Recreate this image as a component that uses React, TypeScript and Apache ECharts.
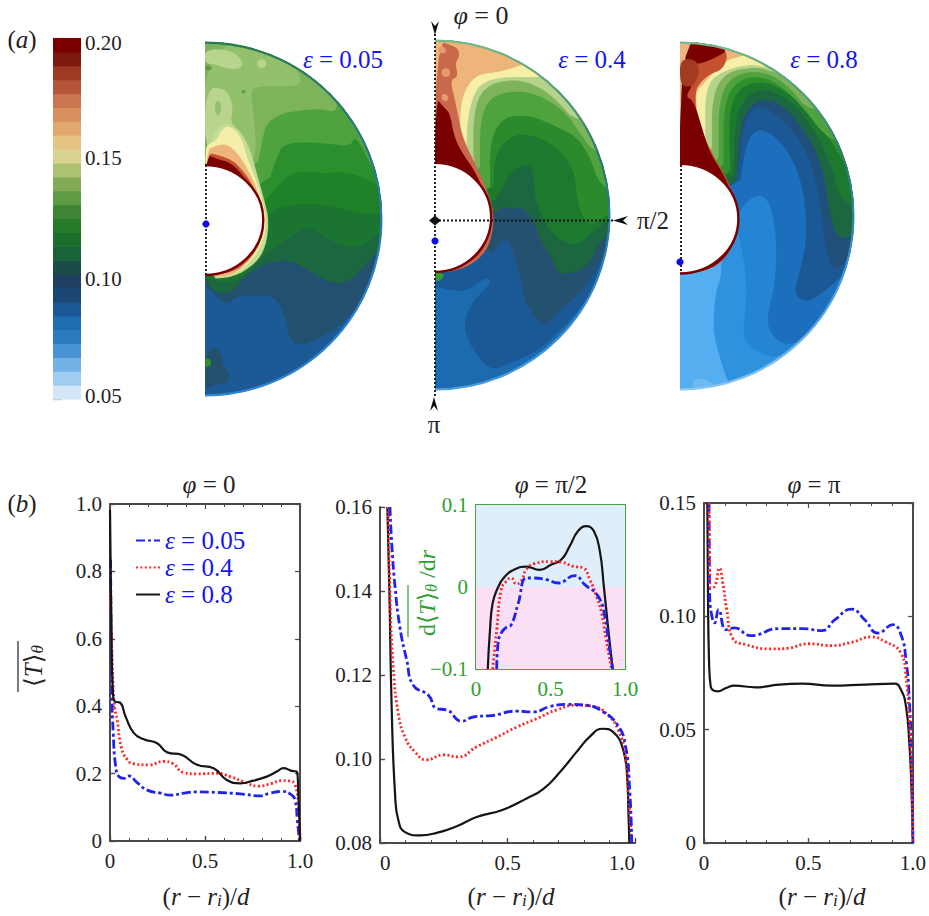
import React, { useEffect, useRef } from "react";
import * as echarts from "echarts";

const SERIF = '"Liberation Serif","DejaVu Serif",serif';
const BLUE_TEXT = "#1414f0";
const GREEN_TEXT = "#2ea12e";

// ---------- colour bar ----------
const colorbarColors = [
  "#d3e7f8","#a0cdef","#72b2e6","#4a94d3","#2a7bc0","#1d6db0","#1b5896","#1c4673","#1f3f60",
  "#1c4c47","#1a6238","#1a6f2c","#257b27","#3f8334","#5f9a44","#83ab57","#adc371","#d9d391",
  "#e6c584","#e1a86e","#d88f5e","#c9754f","#b4553a","#9e3a22","#7d1a10","#7a0000",
];

// ---------- profiles, panel phi = 0 ----------
const p1X8 = [0,.007,.014,.024,.052,.082,.126,.178,.248,.301,.379,.458,.545,.615,.685,.755,.825,.878,.913,.956,.983,.991,1];
const p1Y8 = [.983,.637,.458,.414,.411,.369,.320,.302,.290,.263,.255,.226,.216,.181,.171,.179,.191,.206,.216,.208,.206,.142,0];
const p1X4 = [.003,.014,.024,.038,.059,.091,.126,.205,.283,.327,.388,.458,.563,.633,.703,.782,.851,.904,.948,.974,.991,1];
const p1Y4 = [.736,.498,.399,.359,.280,.241,.229,.226,.236,.231,.203,.199,.201,.191,.176,.163,.171,.179,.178,.166,.112,0];
const p1X05 = [.003,.010,.017,.030,.047,.073,.100,.143,.196,.266,.318,.388,.458,.563,.685,.790,.843,.904,.948,.974,.986,.997];
const p1Y05 = [.835,.439,.320,.221,.191,.186,.193,.173,.151,.142,.136,.142,.146,.144,.140,.134,.142,.147,.140,.122,.062,0];

// ---------- profiles, panel phi = pi/2 ----------
const p2X8 = [.029,.037,.046,.059,.072,.098,.157,.222,.301,.379,.477,.575,.641,.706,.771,.824,.873,.915,.954,.970,.974,.978];
const p2Y8 = [.16,.1394,.1116,.0917,.0854,.0826,.0818,.0824,.0840,.0862,.0878,.0906,.0929,.0969,.1017,.1054,.1072,.1064,.1021,.0949,.0878,.08];
const p2X4 = [.033,.039,.052,.072,.098,.137,.183,.248,.307,.379,.458,.536,.614,.693,.771,.837,.895,.935,.961,.974,.987];
const p2Y4 = [.16,.1394,.1219,.1108,.1052,.1017,.0998,.1010,.1005,.1029,.1052,.1076,.1096,.1117,.1128,.1125,.1104,.1068,.1013,.0917,.08];
const p2X05 = [.039,.046,.059,.078,.105,.131,.190,.222,.261,.320,.366,.444,.536,.601,.667,.732,.810,.876,.928,.961,.980,.987];
const p2Y05 = [.16,.1513,.1410,.1314,.1235,.1175,.1152,.1120,.1117,.1090,.1100,.1104,.1114,.1112,.1125,.1130,.1128,.1112,.1084,.1037,.0917,.08];

// ---------- profiles, panel phi = pi ----------
const p3X8 = [.016,.019,.024,.032,.066,.106,.145,.248,.359,.470,.611,.770,.912,.943,.967,.983,.994,1];
const p3Y8 = [.15,.1103,.0809,.0691,.0669,.0684,.0694,.0687,.0699,.0703,.0694,.0699,.0703,.0676,.0603,.0441,.0221,0];
const p3X4 = [.024,.027,.030,.051,.074,.090,.109,.137,.201,.327,.406,.501,.611,.706,.801,.864,.943,.967,.983,.994,1];
const p3Y4 = [.15,.125,.1125,.1132,.1213,.1147,.1029,.0904,.0875,.0856,.0860,.0879,.0871,.0885,.0909,.0890,.0838,.0735,.0544,.0294,0];
const p3X05 = [.024,.027,.035,.051,.070,.106,.145,.224,.359,.469,.564,.627,.706,.769,.833,.904,.943,.967,.983,.994,1];
const p3Y05 = [.15,.1103,.1015,.0971,.1029,.0941,.0949,.0915,.0946,.0946,.0937,.0985,.1032,.0985,.0926,.0963,.0919,.0809,.0632,.0368,0];

// ---------- profiles, inset ----------
const inX8 = [.079,.094,.112,.146,.191,.258,.337,.427,.506,.573,.629,.685,.742,.791,.831,.858,.888,.917];
const inY8 = [-.1,-.0522,-.0196,-.0012,.0122,.0212,.0249,.0208,.0273,.0335,.0498,.0682,.0743,.0682,.0437,.0008,-.0522,-.1];
const inX4 = [.112,.139,.169,.202,.236,.270,.303,.337,.393,.494,.573,.652,.719,.764,.809,.843,.870,.910];
const inY4 = [-.1,-.0522,-.0033,.0069,.0110,.0037,.0069,.0212,.0286,.0310,.0302,.0253,.0233,.0090,-.0114,-.0318,-.0604,-.1];
const inX05 = [.139,.148,.169,.202,.236,.281,.337,.371,.472,.551,.663,.730,.820,.865,.888,.917];
const inY05 = [-.1,-.0686,-.0563,-.0494,-.0461,-.0216,.0110,.0110,.0090,.0049,.0139,.0029,-.0114,-.0359,-.0645,-.1];

// ---------- temperature maps: isotherm lines and patches, in map units, origin at the centre ----------
const d1Base = "#1c5a96";
const d1LevelColors = ["#24506f","#1c6640","#1b7530","#1f8228","#2c8f2d","#4ea33f","#7db45b"];
const d1Levels = [
  [[0,-195],[25,-225],[65,-260],[95,-230],[145,-230],[205,-230],[235,-275],[260,-385],[345,-360],[415,-310],[475,-245],[515,-185],[585,-145]],
  [[0,-175],[25,-220],[65,-225],[95,-205],[120,-170],[175,-135],[225,-125],[255,-125],[305,-150],[345,-175],[395,-195],[435,-185],[475,-145],[525,-90],[585,-45]],
  [[0,-175],[75,-195],[115,-170],[180,-105],[255,-55],[295,-25],[335,-35],[385,-70],[445,-90],[495,-65],[530,-35],[585,-15]],
  [[175,-45],[185,5],[215,35],[285,45],[345,45],[415,30],[475,15],[530,15],[585,15]],
  [[180,55],[215,95],[245,130],[305,145],[355,135],[415,143],[475,125],[525,95],[585,65]],
  [[195,125],[215,185],[235,225],[305,230],[375,225],[435,217],[450,250],[485,185],[520,115],[585,55]],
  [[160,175],[175,255],[185,285],[225,315],[285,325],[345,330],[390,320],[397,345],[370,375],[425,405]],
];
const d1PatchColors = ["#24506f","#2c8f2d","#93c06c","#b9d48c","#b9d48c","#b9d48c","#93c06c","#5f9a44","#5f9a44","#c5dc96","#f4eeaa","#eeb57a","#c4502e","#7a0000"];
const d1Patches = [
  [[0,-410],[25,-380],[50,-405],[55,-445],[75,-455],[65,-495],[25,-495],[0,-515]],
  [[0,-415],[18,-420],[18,-440],[0,-445]],
  [[0,520],[185,520],[265,465],[295,405],[245,395],[185,400],[135,390],[145,325],[155,195],[130,165],[0,175]],
  [[0,510],[85,505],[120,460],[85,445],[25,465],[0,465]],
  [[155,475],[180,480],[185,455],[160,450]],
  [[0,395],[65,390],[85,335],[75,285],[115,255],[130,205],[125,165],[0,175]],
  [[30,355],[50,350],[45,310],[30,315]],
  [[0,460],[20,458],[20,445],[0,445]],
  [[110,387],[122,385],[120,375],[110,378]],
  [[0,185],[25,255],[50,285],[85,285],[130,225],[150,155],[178,55],[192,-5],[182,-85],[150,-135],[85,-175],[0,-180]],
  [[0,205],[10,225],[35,235],[50,270],[75,280],[110,245],[125,185],[150,125],[175,45],[183,-5],[176,-65],[142,-125],[85,-170],[0,-175]],
  [[0,205],[35,220],[65,225],[100,195],[130,145],[158,85],[177,15],[177,-45],[143,-115],[85,-170],[0,-175]],
  [[0,200],[45,190],[85,175],[130,125],[165,55],[176,0],[170,-65],[135,-120],[85,-160],[0,-170]],
  [[0,195],[35,180],[75,170],[115,130],[155,65],[175,5],[165,-65],[130,-120],[75,-155],[0,-170]],
];

const d2Base = "#1c6bb0";
const d2LevelColors = ["#1b5896","#24516f","#1c6640","#1c7a2e","#2a8a2c","#4ea33f","#7db45b","#b5d38a","#f7eea8","#eeb57a"];
const d2Levels = [
  [[0,-215],[75,-230],[110,-220],[155,-185],[170,-205],[120,-250],[85,-315],[100,-385],[165,-470],[225,-445],[315,-405],[375,-345],[445,-275],[505,-155],[575,-55]],
  [[170,-115],[215,-60],[240,-125],[260,-205],[270,-265],[325,-340],[375,-285],[435,-235],[485,-165],[515,-95],[575,-45]],
  [[175,5],[205,25],[230,20],[270,20],[295,-15],[315,-75],[355,-135],[365,-175],[415,-175],[465,-145],[495,-75],[575,-15]],
  [[180,45],[205,85],[225,125],[275,155],[295,135],[300,45],[335,-35],[375,-75],[425,-95],[480,-45],[575,25]],
  [[175,85],[180,185],[235,245],[315,235],[385,185],[420,125],[425,45],[455,-35],[515,-5],[575,45]],
  [[165,85],[165,225],[205,295],[285,300],[365,265],[425,235],[465,175],[495,85],[575,60]],
  [[135,145],[135,285],[165,355],[245,375],[325,355],[395,305],[435,245],[470,195],[575,145]],
  [[115,165],[115,305],[145,385],[235,410],[315,385],[375,335],[415,285],[575,265]],
  [[135,115],[95,185],[95,265],[110,345],[135,395],[205,415],[290,413],[315,415],[330,430],[400,500]],
  [[120,165],[75,225],[75,305],[85,365],[120,420],[195,430],[245,445],[275,455],[325,475]],
];
const d2PatchColors = ["#3a9a30","#c9684a","#e79a6b","#e79a6b","#e79a6b","#7a0000"];
const d2Patches = [
  [[0,-170],[28,-176],[20,-195],[0,-200]],
  [[0,525],[65,505],[75,480],[60,455],[70,415],[45,405],[60,345],[70,295],[85,225],[135,125],[175,25],[175,-45],[155,-110],[95,-160],[0,-178]],
  [[20,440],[45,440],[45,415],[20,415]],
  [[10,505],[30,505],[35,485],[10,485]],
  [[20,365],[40,360],[38,340],[20,345]],
  [[0,355],[25,325],[45,305],[55,245],[75,195],[125,125],[165,25],[167,-45],[145,-105],[95,-150],[0,-170]],
];

const d3Base = "#55aef0";
const d3LevelColors = ["#2f92de","#2385d3","#1c6fbd","#1b5896","#1f4f7a","#1c6640","#1b7a2e","#2f8f2c","#4fa33f","#7db45b","#b5d38a","#f7eea8","#eeb57a"];
const d3Levels = [
  [[166,-53],[121,-143],[126,-173],[106,-233],[99,-333],[111,-393],[136,-478],[161,-533]],
  [[176,-53],[196,-153],[201,-253],[186,-363],[221,-403],[291,-428],[371,-383],[441,-323],[521,-283]],
  [[176,7],[201,47],[246,67],[276,27],[291,-83],[286,-203],[261,-303],[271,-353],[321,-393],[401,-353],[461,-273],[541,-183]],
  [[181,107],[201,227],[241,267],[301,227],[351,147],[376,47],[381,-73],[361,-163],[341,-233],[381,-263],[451,-213],[541,-133]],
  [[176,147],[191,277],[221,327],[271,322],[351,247],[401,147],[426,7],[446,-143],[471,-163],[541,-93]],
  [[171,107],[181,277],[221,347],[291,347],[371,267],[431,147],[451,-13],[481,-73],[541,-53]],
  [[161,127],[166,297],[211,377],[291,377],[381,297],[451,167],[481,47],[541,27]],
  [[151,137],[146,327],[191,397],[281,402],[401,307],[471,197],[511,127],[561,147]],
  [[131,157],[131,337],[171,407],[251,422],[341,362],[461,207],[541,247]],
  [[116,177],[116,347],[156,422],[251,437],[331,387],[391,307],[561,347]],
  [[96,207],[96,357],[136,432],[231,447],[281,432],[361,407]],
  [[76,227],[76,387],[121,432],[211,457],[271,442],[341,447]],
  [[66,247],[41,367],[81,407],[121,457],[171,477],[221,487],[271,472]],
];
const d3PatchColors = ["#6cbaf3","#c4502e","#7a0000","#a33a22"];
const d3Patches = [
  [[31,-523],[46,-483],[91,-493],[111,-523]],
  [[0,522],[100,518],[146,490],[130,440],[90,425],[60,400],[45,370],[50,300],[72,240],[100,180],[140,115],[175,30],[178,-50],[130,-140],[60,-170],[0,-172]],
  [[0,522],[90,520],[146,497],[111,477],[66,457],[41,457],[21,447],[41,397],[16,357],[41,347],[71,247],[91,187],[136,117],[166,37],[176,-3],[171,-73],[121,-143],[61,-168],[0,-173]],
  [[0,470],[45,470],[60,440],[45,395],[20,385],[0,400]],
];

// ---------- helpers ----------
const zip = (a: number[], b: number[]) => a.map((x, i) => [x, b[i]]);

function chaikin(pts: number[][], closed: boolean, rounds = 2) {
  let cur = pts;
  for (let r = 0; r < rounds; r++) {
    const out: number[][] = [];
    const n = cur.length;
    if (!closed) out.push(cur[0]);
    const last = closed ? n : n - 1;
    for (let i = 0; i < last; i++) {
      const a = cur[i];
      const b = cur[(i + 1) % n];
      out.push([0.75 * a[0] + 0.25 * b[0], 0.75 * a[1] + 0.25 * b[1]]);
      out.push([0.25 * a[0] + 0.75 * b[0], 0.25 * a[1] + 0.75 * b[1]]);
    }
    if (!closed) out.push(cur[n - 1]);
    cur = out;
  }
  return cur;
}

function richFor(size: number, fill: string) {
  return {
    i: { fontStyle: "italic", fontFamily: SERIF, fontSize: size, fill, color: fill },
    n: { fontFamily: SERIF, fontSize: size, fill, color: fill },
    s: { fontStyle: "italic", fontFamily: SERIF, fontSize: size * 0.68, fill, color: fill, padding: [9, 0, 0, 0] },
  };
}

function label(x: number, y: number, text: string, size = 25, fill = "#222", rotation = 0) {
  return {
    type: "text",
    x,
    y,
    rotation,
    silent: true,
    style: {
      text,
      fontFamily: SERIF,
      fontSize: size,
      fill,
      align: "center",
      verticalAlign: "middle",
      rich: richFor(size, fill),
    },
  };
}

function dotted(x1: number, y1: number, x2: number, y2: number) {
  return {
    type: "line",
    silent: true,
    shape: { x1, y1, x2, y2 },
    style: { stroke: "#111", lineWidth: 1.8, lineDash: [2, 2] },
  };
}

function dot(x: number, y: number) {
  return { type: "circle", silent: true, shape: { cx: x, cy: y, r: 3.6 }, style: { fill: "#0c0ce8" } };
}

function arrow(points: number[][]) {
  return { type: "polygon", silent: true, shape: { points }, style: { fill: "#111" } };
}

function mapSeries(
  xAxisIndex: number,
  yAxisIndex: number,
  R: number,
  base: string,
  levels: number[][][],
  levelColors: string[],
  patches: number[][][],
  patchColors: string[],
  inner: number[],
  edgeStops: string[],
) {
  const items: any[] = [];
  items.push({ kind: "base", color: base });
  levels.forEach((pts, i) => items.push({ kind: "level", pts: chaikin(pts, false), color: levelColors[i] }));
  patches.forEach((pts, i) => items.push({ kind: "patch", pts: chaikin(pts, true), color: patchColors[i] }));
  items.push({ kind: "hole" });
  items.push({ kind: "edge" });
  return {
    type: "custom",
    xAxisIndex,
    yAxisIndex,
    silent: true,
    data: items.map((_, i) => [i, 0]),
    renderItem: (_p: any, api: any) => {
      const it = items[api.value(0)];
      const c = api.coord([0, 0]);
      const rx = api.coord([R, 0])[0] - c[0];
      const clipPath = {
        type: "sector",
        shape: { cx: c[0], cy: c[1], r: rx, r0: 0, startAngle: -Math.PI / 2, endAngle: Math.PI / 2 },
      };
      if (it.kind === "base") {
        return {
          type: "sector",
          shape: { cx: c[0], cy: c[1], r: rx, r0: 0, startAngle: -Math.PI / 2, endAngle: Math.PI / 2 },
          style: { fill: it.color },
        };
      }
      if (it.kind === "level") {
        const first = it.pts[0];
        const last = it.pts[it.pts.length - 1];
        const far = R * 1.3;
        const poly = [...it.pts, [far, last[1]], [far, far], [0, far], [0, 0], [first[0] * 0.5, first[1] * 0.5]];
        return {
          type: "polygon",
          clipPath,
          shape: { points: poly.map((p: number[]) => api.coord(p)) },
          style: { fill: it.color },
        };
      }
      if (it.kind === "patch") {
        return {
          type: "polygon",
          clipPath,
          shape: { points: it.pts.map((p: number[]) => api.coord(p)) },
          style: { fill: it.color },
        };
      }
      if (it.kind === "hole") {
        const ic = api.coord([0, inner[0]]);
        const hrx = api.coord([inner[1], 0])[0] - c[0];
        const hry = api.coord([0, inner[0] - inner[2]])[1] - ic[1];
        return {
          type: "ellipse",
          clipPath,
          shape: { cx: ic[0], cy: ic[1], rx: hrx + 0.5, ry: hry + 0.5 },
          style: { fill: "#fff", stroke: "#7a0000", lineWidth: 2.4 },
        };
      }
      return {
        type: "arc",
        shape: { cx: c[0], cy: c[1], r: rx - 0.6, startAngle: -Math.PI / 2, endAngle: Math.PI / 2 },
        style: {
          fill: null,
          lineWidth: 2.2,
          stroke: {
            type: "linear",
            x: 0,
            y: 0,
            x2: 0,
            y2: 1,
            colorStops: edgeStops.map((color, i) => ({ offset: i / (edgeStops.length - 1), color })),
          },
        },
      };
    },
  };
}

const SER_NAMES = ["ε = 0.05", "ε = 0.4", "ε = 0.8"];
const lineStyles = [
  { color: "#2222ee", width: 2.8, type: [9, 3, 3, 3] },
  { color: "#ff2525", width: 2.8, type: [2, 2.4] },
  { color: "#151515", width: 2.2, type: "solid" },
];

function line(idx: number, data: number[][], axis: number) {
  return {
    type: "line",
    name: SER_NAMES[idx],
    xAxisIndex: axis,
    yAxisIndex: axis,
    data,
    showSymbol: false,
    symbol: "none",
    smooth: 0.5,
    clip: true,
    lineStyle: lineStyles[idx],
    itemStyle: { color: lineStyles[idx].color },
    z: 4,
  };
}

export default function App() {
  const ref = useRef<HTMLDivElement>(null);
  useEffect(() => {
    const chart = echarts.init(ref.current!, undefined, { renderer: "svg" });

    const fmt1 = (v: number) => (v === 0 ? "0" : v.toFixed(1));
    const fmt2 = (v: number) => (v === 0 ? "0" : v.toFixed(2));
    const fmtInset = (v: number) => (v === 0 ? "0" : v < 0 ? "−" + Math.abs(v).toFixed(1) : v.toFixed(1));
    const TICK = 21;

    const spine = "#4a4a4a";
    const valueX = (gridIndex: number, color: string, fc: string, extra: any = {}) => ({
      type: "value",
      gridIndex,
      min: 0,
      max: 1,
      interval: 0.5,
      position: "bottom",
      axisLine: { show: true, onZero: false, lineStyle: { color, width: 2 } },
      axisTick: { show: true, inside: true, length: 5, lineStyle: { color, width: 1.4 } },
      minorTick: { show: true, splitNumber: 5, length: 3, lineStyle: { color, width: 1 } },
      splitLine: { show: false },
      axisLabel: { fontFamily: SERIF, fontSize: TICK, color: fc, margin: 9, formatter: fmt1, ...extra },
    });
    const valueY = (gridIndex: number, min: number, max: number, interval: number, color: string, fc: string, formatter: any) => ({
      type: "value",
      gridIndex,
      min,
      max,
      interval,
      position: "left",
      axisLine: { show: true, onZero: false, lineStyle: { color, width: 2 } },
      axisTick: { show: true, inside: true, length: 5, lineStyle: { color, width: 1.4 } },
      splitLine: { show: false },
      axisLabel: { fontFamily: SERIF, fontSize: TICK, color: fc, margin: 8, formatter },
    });
    const mirrorX = (gridIndex: number, color: string) => ({
      type: "value", gridIndex, min: 0, max: 1, interval: 0.5, position: "top",
      axisLine: { show: true, onZero: false, lineStyle: { color, width: 2 } },
      axisTick: { show: true, inside: true, length: 5, lineStyle: { color, width: 1.2 } },
      minorTick: { show: true, splitNumber: 5, length: 3, lineStyle: { color, width: 1 } },
      splitLine: { show: false }, axisLabel: { show: false },
    });
    const mirrorY = (gridIndex: number, min: number, max: number, interval: number, color: string) => ({
      type: "value", gridIndex, min, max, interval, position: "right",
      axisLine: { show: true, onZero: false, lineStyle: { color, width: 2 } },
      axisTick: { show: true, inside: true, length: 5, lineStyle: { color, width: 1.2 } },
      splitLine: { show: false }, axisLabel: { show: false },
    });
    const hiddenX = (gridIndex: number, max: number) => ({ type: "value", gridIndex, min: 0, max, show: false });
    const hiddenY = (gridIndex: number, R: number) => ({ type: "value", gridIndex, min: -R, max: R, show: false });

    const grids = [
      { left: 110, top: 504, width: 190, height: 337 }, // 0 phi=0
      { left: 380, top: 507, width: 255, height: 336 }, // 1 phi=pi/2
      { left: 704, top: 503, width: 211, height: 340 }, // 2 phi=pi
      { left: 476, top: 505, width: 149, height: 164 }, // 3 inset
      { left: 53, top: 38, width: 28, height: 361 }, // 4 colour bar
      { left: 205, top: 42, width: 177, height: 354 }, // 5 map 1
      { left: 435, top: 40, width: 175, height: 350 }, // 6 map 2
      { left: 680, top: 41.5, width: 174, height: 349 }, // 7 map 3
    ];

    const xAxis: any[] = [
      valueX(0, spine, "#222"),
      valueX(1, spine, "#222", { alignMinLabel: "left", alignMaxLabel: "right" }),
      valueX(2, spine, "#222"),
      valueX(3, "#4aa24a", GREEN_TEXT),
      { type: "value", gridIndex: 4, min: 0, max: 1, show: false },
      hiddenX(5, 530),
      hiddenX(6, 525),
      hiddenX(7, 523),
      mirrorX(0, spine),
      mirrorX(2, spine),
      mirrorX(3, "#4aa24a"),
    ];
    const yAxis: any[] = [
      valueY(0, 0, 1, 0.2, spine, "#222", fmt1),
      valueY(1, 0.08, 0.16, 0.02, spine, "#222", fmt2),
      valueY(2, 0, 0.15, 0.05, spine, "#222", fmt2),
      valueY(3, -0.1, 0.1, 0.1, "#4aa24a", GREEN_TEXT, fmtInset),
      {
        type: "value",
        gridIndex: 4,
        min: 0.05,
        max: 0.2,
        interval: 0.05,
        position: "right",
        axisLine: { show: false },
        axisTick: { show: true, length: 9, lineStyle: { color: "#b5b5b5", width: 1.4 } },
        splitLine: { show: false },
        axisLabel: {
          fontFamily: SERIF,
          fontSize: TICK,
          color: "#222",
          margin: 4,
          formatter: (v: number) => {
            const t = v.toFixed(2);
            if (t === "0.20") return "{hi|" + t + "}";
            if (t === "0.05") return "{lo|" + t + "}";
            return t;
          },
          rich: {
            hi: { fontFamily: SERIF, fontSize: TICK, color: "#222", padding: [10, 0, 0, 0] },
            lo: { fontFamily: SERIF, fontSize: TICK, color: "#222", padding: [0, 0, 6, 0] },
          },
        },
      },
      hiddenY(5, 530),
      hiddenY(6, 525),
      hiddenY(7, 523),
      mirrorY(0, 0, 1, 0.2, spine),
      mirrorY(2, 0, 0.15, 0.05, spine),
      mirrorY(3, -0.1, 0.1, 0.1, "#4aa24a"),
    ];

    const cbStep = 0.15 / colorbarColors.length;
    const insetBands = [
      { y0: 0, y1: 0.1, color: "#deeefb" },
      { y0: -0.1, y1: 0, color: "#fbdff5" },
    ];

    const series: any[] = [
      {
        type: "custom",
        xAxisIndex: 4,
        yAxisIndex: 4,
        silent: true,
        data: colorbarColors.map((_, i) => [i, 0]),
        renderItem: (_p: any, api: any) => {
          const i = api.value(0);
          const a = api.coord([0, 0.05 + i * cbStep]);
          const b = api.coord([1, 0.05 + (i + 1) * cbStep]);
          return {
            type: "rect",
            shape: { x: a[0], y: b[1], width: b[0] - a[0], height: a[1] - b[1] + 0.6 },
            style: { fill: colorbarColors[i] },
          };
        },
      },
      mapSeries(5, 5, 530, d1Base, d1Levels, d1LevelColors, d1Patches, d1PatchColors, [-3, 173, 163], ["#2a7a50", "#2a7a8a", "#2b80c8", "#2f86d0"]),
      mapSeries(6, 6, 525, d2Base, d2Levels, d2LevelColors, d2Patches, d2PatchColors, [-7, 167, 162], ["#7ab98a", "#2a7a6a", "#2b80c8", "#4f9fe0"]),
      mapSeries(7, 7, 523, d3Base, d3Levels, d3LevelColors, d3Patches, d3PatchColors, [-8, 174, 163], ["#7ab98a", "#2a7a6a", "#3d93dc", "#8cc6f2"]),
      {
        type: "custom",
        xAxisIndex: 3,
        yAxisIndex: 3,
        silent: true,
        z: 1,
        data: insetBands.map((_, i) => [i, 0]),
        renderItem: (_p: any, api: any) => {
          const b = insetBands[api.value(0)];
          const a = api.coord([0, b.y1]);
          const c = api.coord([1, b.y0]);
          return {
            type: "rect",
            shape: { x: a[0], y: a[1], width: c[0] - a[0], height: c[1] - a[1] },
            style: { fill: b.color },
          };
        },
      },
      line(0, zip(p1X05, p1Y05), 0),
      line(1, zip(p1X4, p1Y4), 0),
      line(2, zip(p1X8, p1Y8), 0),
      line(2, zip(p2X8, p2Y8), 1),
      line(1, zip(p2X4, p2Y4), 1),
      line(0, zip(p2X05, p2Y05), 1),
      line(2, zip(p3X8, p3Y8), 2),
      line(0, zip(p3X05, p3Y05), 2),
      line(1, zip(p3X4, p3Y4), 2),
      line(2, zip(inX8, inY8), 3),
      line(1, zip(inX4, inY4), 3),
      line(0, zip(inX05, inY05), 3),
    ];

    const titleOf = (x: number, y: number, text: string) => ({
      text,
      left: x,
      top: y,
      textAlign: "center",
      textStyle: { fontFamily: SERIF, fontSize: 25, fontWeight: "normal", color: "#222", rich: richFor(25, "#222") },
    });

    const xName = "({i|r} − {i|r}{s|i})/{i|d}";
    const graphicElements: any[] = [
      label(22, 39, "({i|a})", 25),
      label(22, 503, "({i|b})", 25),
      label(343, 59, "{i|ε} = 0.05", 25, BLUE_TEXT),
      label(592, 59, "{i|ε} = 0.4", 25, BLUE_TEXT),
      label(824, 59, "{i|ε} = 0.8", 25, BLUE_TEXT),
      label(481, 15, "{i|φ} = 0", 26),
      label(653, 220, "π/2", 25),
      label(434, 424, "π", 25),
      label(206, 896, xName, 25),
      label(511, 896, xName, 25),
      label(822, 896, xName, 25),
      // axis titles and their over-bars
      label(33, 666, "⟨{i|T}⟩{s|θ}", 25, "#222", Math.PI / 2),
      { type: "line", silent: true, shape: { x1: 18, y1: 641, x2: 18, y2: 692 }, style: { stroke: "#222", lineWidth: 1.2 } },
      label(427, 593, "d⟨{i|T}⟩{s|θ} /d{i|r}", 24, GREEN_TEXT, Math.PI / 2),
      { type: "line", silent: true, shape: { x1: 408, y1: 585, x2: 408, y2: 637 }, style: { stroke: GREEN_TEXT, lineWidth: 1.2 } },
      // guide lines on the maps
      dotted(206, 165, 206, 274),
      dot(206, 224),
      dotted(435, 26, 435, 398),
      dotted(435, 220.5, 614, 220.5),
      { type: "polygon", silent: true, shape: { points: [[435, 215.5], [441, 220.5], [435, 225.5], [429, 220.5]] }, style: { fill: "#111" } },
      dot(435, 241),
      dotted(681, 165, 681, 272),
      dot(680, 262),
      arrow([[431, 21], [435, 35], [439, 21], [435, 26]]),
      arrow([[430, 411], [434, 397], [438, 411], [434, 406]]),
      arrow([[628, 216], [613, 220.5], [628, 225], [623, 220.5]]),
    ];

    chart.setOption({
      animation: false,
      backgroundColor: "#ffffff",
      title: [
        titleOf(204, 467, "{i|φ} = 0"),
        titleOf(546, 467, "{i|φ} = π/2"),
        titleOf(809, 467, "{i|φ} = π"),
      ],
      legend: {
        show: true,
        orient: "vertical",
        left: 130,
        top: 523,
        itemWidth: 24,
        itemHeight: 14,
        itemGap: 2,
        selectedMode: false,
        data: SER_NAMES,
        itemStyle: { opacity: 0 },
        formatter: (n: string) => n.replace("ε", "{i|ε}"),
        textStyle: { fontFamily: SERIF, fontSize: 25, color: BLUE_TEXT, rich: richFor(25, BLUE_TEXT) },
      },
      grid: grids.map((g) => ({ ...g, containLabel: false })),
      xAxis,
      yAxis,
      series,
      graphic: { elements: graphicElements.map((g) => ({ ...g, z: 100 })) },
    });
    return () => chart.dispose();
  }, []);
  return <div ref={ref} style={{ width: 929, height: 916, position: "absolute", left: 0, top: 0 }} />;
}
